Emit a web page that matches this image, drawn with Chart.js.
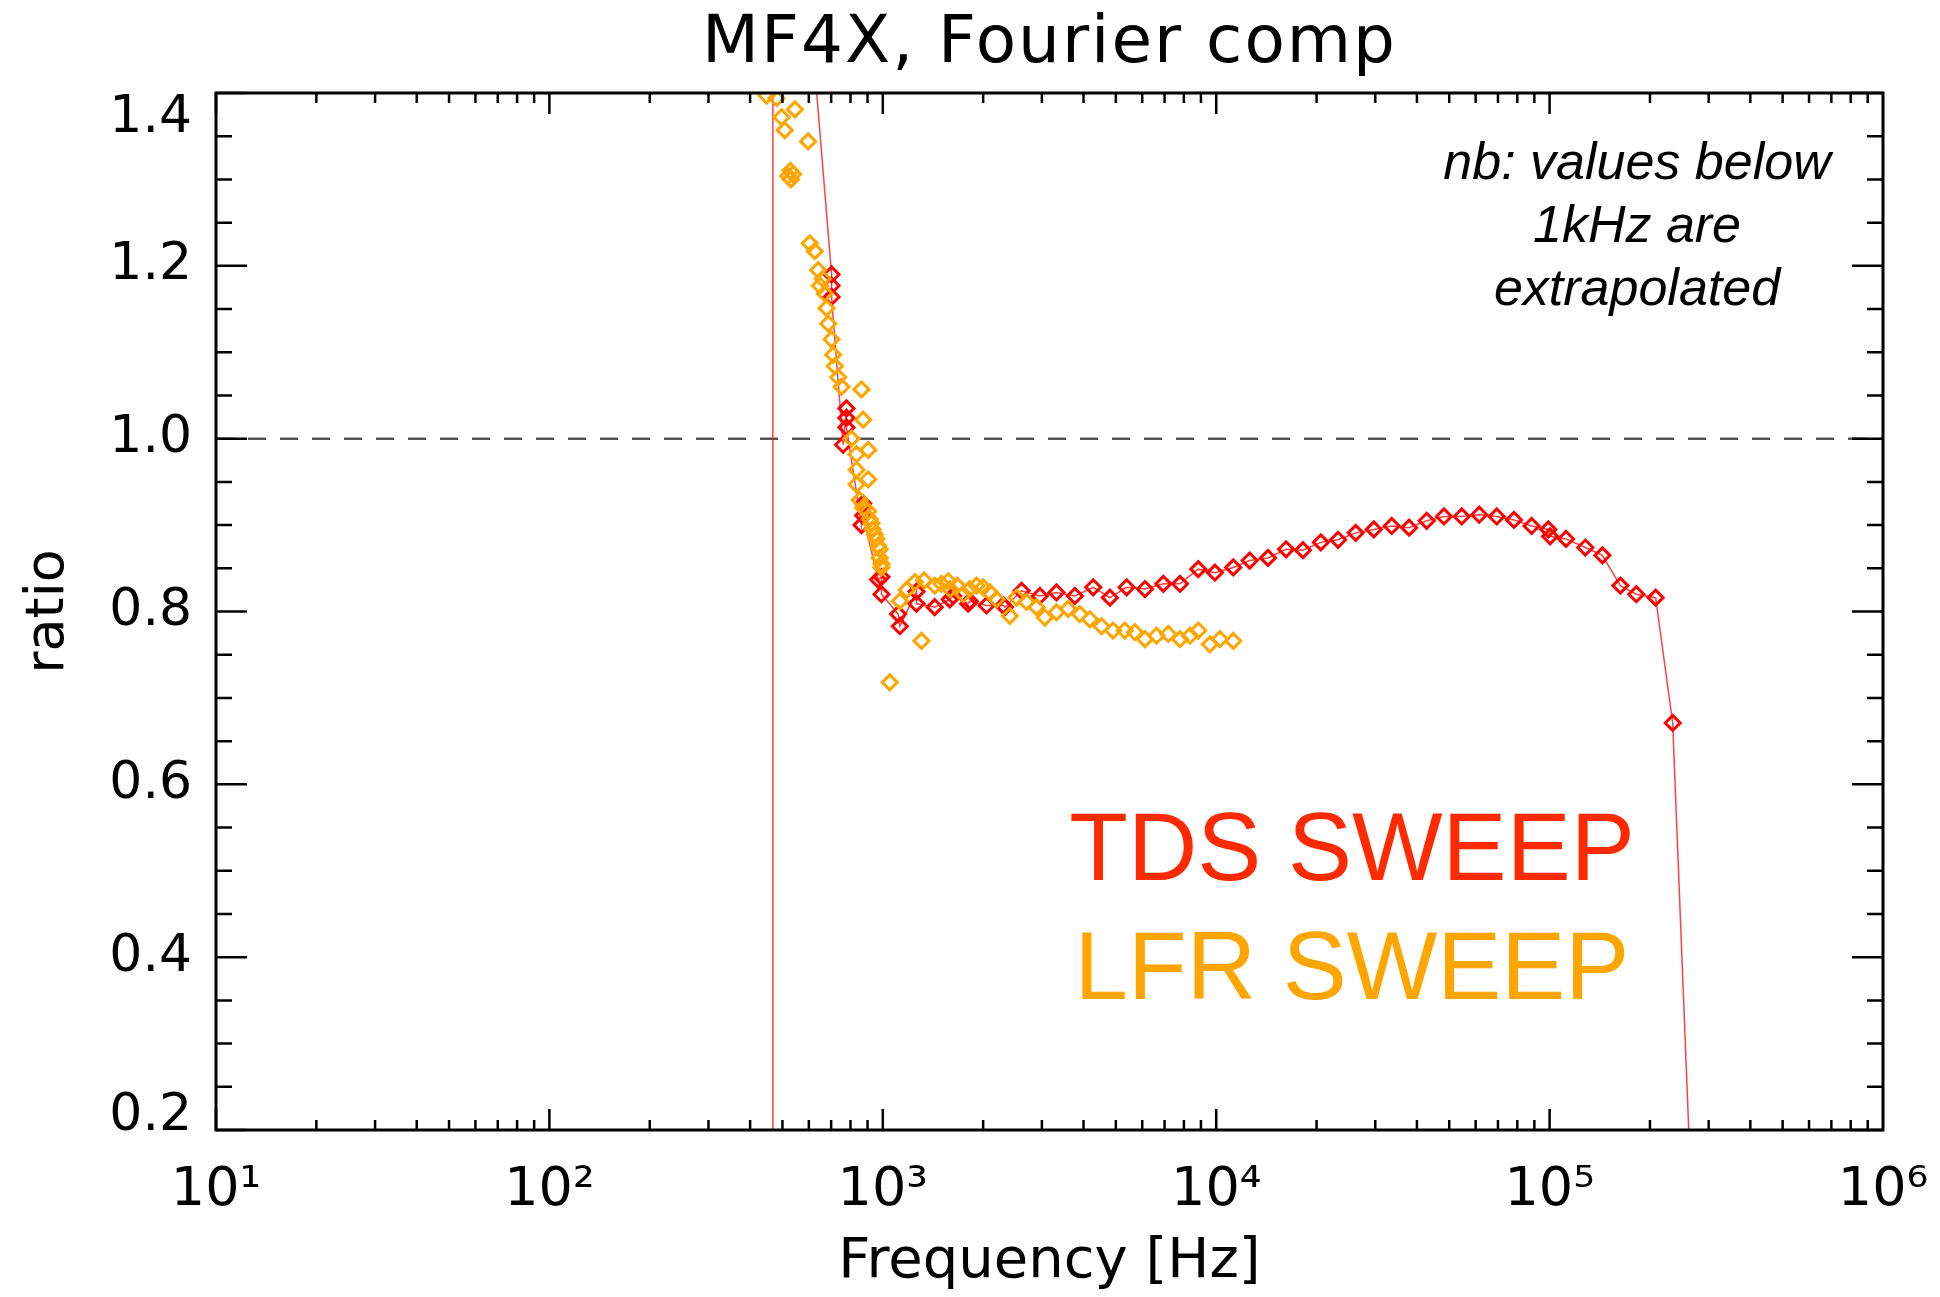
<!DOCTYPE html>
<html lang="en">

<head>
  <meta charset="UTF-8">
  <title>MF4X, Fourier comp</title>
  <script src="https://cdn.jsdelivr.net/npm/chart.js"></script>
  <style>
    body { margin: 0; background: #fff; overflow: hidden; }
  </style>
</head>

<body>
  <canvas id="ratioChart" width="1940" height="1297"></canvas>

  <script>
    // TDS sweep (red, joined by a line) - frequency [Hz] and ratio
    const tdsFreq = [466, 468, 702, 702, 702, 760, 778, 778, 778, 863, 873, 873, 968, 991, 991, 1112, 1125,
      1262, 1262, 1431, 1588, 1625, 1803, 1824, 2047, 2296, 2324, 2607, 2959, 3318, 3767, 4277, 4800, 5387,
      6115, 6941, 7788, 8834, 9913, 11250, 12600, 14300, 16200, 18200, 20600, 23200, 26200, 29700, 33600,
      37900, 42800, 48200, 54500, 61500, 69400, 78200, 88300, 99100, 100300, 112000, 128000, 144000,
      163000, 182000, 208000, 234000, 274000];
    const tdsRatio = [-2.0, 2.02, 1.190, 1.177, 1.164, 0.993, 1.035, 1.024, 1.013, 0.900, 0.925, 0.911, 0.837, 0.840, 0.820, 0.797, 0.783,
      0.823, 0.809, 0.805, 0.814, 0.818, 0.809, 0.812, 0.807, 0.807, 0.805, 0.824, 0.818, 0.822, 0.818, 0.828, 0.816, 0.828,
      0.826, 0.832, 0.832, 0.849, 0.845, 0.851, 0.859, 0.862, 0.872, 0.871, 0.880, 0.883, 0.891, 0.895, 0.899,
      0.897, 0.905, 0.910, 0.910, 0.912, 0.910, 0.906, 0.899, 0.895, 0.887, 0.884, 0.874, 0.865,
      0.830, 0.820, 0.816, 0.671, 0.0];

    // LFR sweep (orange, markers only)
    const lfrFreq = [448, 480, 497, 508, 545, 597, 520, 528, 530, 538, 604, 625, 640, 648, 660, 670, 678, 686,
      702, 710, 718, 735, 752, 863, 873, 805, 834, 904, 834, 904, 834, 853, 873, 904, 914, 925, 932, 946,
      957, 968, 979, 979, 991, 991, 1049, 1125, 1180, 1248, 1306, 1330, 1431, 1500, 1571, 1590, 1670,
      1742, 1820, 1910, 2000, 2094, 2193, 2404, 2518, 2698, 2891, 3062, 3318, 3597, 3898, 4178, 4527,
      4906, 5317, 5702, 6115, 6622, 7180, 7788, 8342, 8834, 9572, 10260, 11250];
    const lfrRatio = [1.397, 1.394, 1.372, 1.357, 1.381, 1.344, 1.304, 1.310, 1.300, 1.306, 1.226, 1.217, 1.195, 1.177, 1.185, 1.168, 1.151, 1.133,
      1.115, 1.097, 1.084, 1.071, 1.060, 1.057, 1.022, 1.000, 0.982, 0.987, 0.964, 0.953, 0.947, 0.929, 0.920, 0.916, 0.907, 0.902, 0.895, 0.889,
      0.884, 0.876, 0.872, 0.862, 0.855, 0.851, 0.718, 0.812, 0.825, 0.834, 0.766, 0.836, 0.830, 0.832, 0.835, 0.826, 0.830,
      0.820, 0.826, 0.830, 0.828, 0.822, 0.814, 0.795, 0.816, 0.811, 0.805, 0.793, 0.799, 0.803, 0.797, 0.791, 0.783,
      0.778, 0.778, 0.776, 0.768, 0.772, 0.774, 0.768, 0.772, 0.778, 0.762, 0.768, 0.766];

    // dashed reference at ratio = 1
    const refFreq = [10, 1e6];
    const refRatio = [1, 1];

    const xTickValues = [10, 100, 1000, 10000, 100000, 1000000];
    const xTickLabels = ['10¹', '10²', '10³', '10⁴', '10⁵', '10⁶'];
    const yTickValues = [0.2, 0.4, 0.6, 0.8, 1.0, 1.2, 1.4];

    const toPoints = (xs, ys) => xs.map((x, i) => ({ x, y: ys[i] }));

    // box round the plot with inward major / minor ticks
    const framePlugin = {
      id: 'frame',
      afterDatasetsDraw(chart) {
        const { ctx, chartArea: a, scales: { x, y } } = chart;
        ctx.save();
        ctx.strokeStyle = '#000';
        ctx.lineWidth = 2.5;
        ctx.beginPath();
        for (let e = 1; e <= 5; e++) {
          for (let m = 1; m <= 9; m++) {
            const px = x.getPixelForValue(m * Math.pow(10, e));
            const len = m === 1 ? 21 : 10;
            ctx.moveTo(px, a.bottom); ctx.lineTo(px, a.bottom - len);
            ctx.moveTo(px, a.top); ctx.lineTo(px, a.top + len);
          }
        }
        for (let k = 0; k <= 24; k++) {
          const v = 0.2 + k * 0.05;
          const py = y.getPixelForValue(v);
          const len = k % 4 === 0 ? 31 : 16;
          ctx.moveTo(a.left, py); ctx.lineTo(a.left + len, py);
          ctx.moveTo(a.right, py); ctx.lineTo(a.right - len, py);
        }
        ctx.stroke();
        ctx.lineWidth = 3;
        ctx.strokeRect(a.left, a.top, a.right - a.left, a.bottom - a.top);
        ctx.restore();
      }
    };

    // title, note and sweep names
    const textPlugin = {
      id: 'texts',
      afterDraw(chart) {
        const { ctx, chartArea: a } = chart;
        ctx.save();
        ctx.textAlign = 'center';
        ctx.textBaseline = 'alphabetic';
        ctx.fillStyle = '#000';
        ctx.font = '66px "DejaVu Sans"';
        ctx.letterSpacing = '2px';
        ctx.fillText('MF4X, Fourier comp', (a.left + a.right) / 2, 62);
        ctx.letterSpacing = '0px';

        ctx.font = 'italic 52px "Liberation Sans"';
        const nx = a.right - 246;
        ctx.fillText('nb: values below', nx, a.top + 86);
        ctx.fillText('1kHz are', nx, a.top + 149);
        ctx.fillText('extrapolated', nx, a.top + 212);

        ctx.font = '96px "Liberation Sans"';
        ctx.fillStyle = '#ff2a00';
        ctx.fillText('TDS SWEEP', a.right - 531, a.top + 787);
        ctx.fillStyle = '#ffa500';
        ctx.fillText('LFR SWEEP', a.right - 531, a.top + 906);
        ctx.restore();
      }
    };

    // end labels sit inside the axis range, like the original plot
    const yLabelFont = c => {
      const v = c.tick ? c.tick.value : null;
      let lh = 1.2;
      if (v === 1.4) lh = '50px';
      if (v === 0.2) lh = '28px';
      return { family: 'DejaVu Sans', size: 52, lineHeight: lh };
    };

    new Chart(document.getElementById('ratioChart'), {
      type: 'scatter',
      data: {
        datasets: [
          {
            label: 'LFR SWEEP',
            data: toPoints(lfrFreq, lfrRatio),
            showLine: false,
            pointStyle: 'rectRot',
            pointRadius: 7.5,
            pointBorderWidth: 3,
            pointBorderColor: '#ffa500',
            pointBackgroundColor: 'rgba(0,0,0,0)',
            clip: 0,
            order: 1
          },
          {
            label: 'TDS SWEEP',
            data: toPoints(tdsFreq, tdsRatio),
            showLine: true,
            borderColor: 'rgba(255,30,30,0.85)',
            borderWidth: 1.5,
            pointStyle: 'rectRot',
            pointRadius: 7.5,
            pointBorderWidth: 3,
            pointBorderColor: '#ff0000',
            pointBackgroundColor: 'rgba(0,0,0,0)',
            clip: 0,
            order: 2
          },
          {
            label: 'ratio = 1',
            data: toPoints(refFreq, refRatio),
            showLine: true,
            borderColor: '#555',
            borderWidth: 2.5,
            borderDash: [18, 14],
            pointRadius: 0,
            clip: 0,
            order: 3
          }
        ]
      },
      options: {
        responsive: false,
        devicePixelRatio: 1,
        animation: false,
        events: [],
        layout: { padding: { top: 93, right: 57, left: 0, bottom: 0 } },
        plugins: {
          legend: { display: false },
          tooltip: { enabled: false }
        },
        scales: {
          x: {
            type: 'logarithmic',
            min: 10,
            max: 1e6,
            afterBuildTicks: s => { s.ticks = xTickValues.map(v => ({ value: v })); },
            afterFit: s => {
              s.height = 167;
              s.paddingLeft = 0;
              s.paddingRight = 0;
            },
            grid: { display: false, drawTicks: false },
            border: { display: false },
            ticks: {
              autoSkip: false,
              maxRotation: 0,
              padding: 29,
              color: '#000',
              font: { family: 'DejaVu Sans', size: 54 },
              callback: (v, i) => xTickLabels[i]
            },
            title: {
              display: true,
              text: 'Frequency [Hz]',
              color: '#000',
              font: { family: 'DejaVu Sans', size: 56 },
              padding: { top: 0, bottom: 1 }
            }
          },
          y: {
            min: 0.2,
            max: 1.4,
            afterBuildTicks: s => { s.ticks = yTickValues.map(v => ({ value: v })); },
            afterFit: s => {
              s.width = 216;
              s.paddingTop = 0;
              s.paddingBottom = 0;
            },
            grid: { display: false, drawTicks: false },
            border: { display: false },
            ticks: {
              padding: 24,
              color: '#000',
              font: yLabelFont,
              callback: v => {
                const t = v.toFixed(1);
                if (v === 1.4) return ['', t];
                if (v === 0.2) return [t, ''];
                return t;
              }
            },
            title: {
              display: true,
              text: 'ratio',
              color: '#000',
              font: { family: 'DejaVu Sans', size: 54 },
              padding: { top: 17, bottom: 0 }
            }
          }
        }
      },
      plugins: [framePlugin, textPlugin]
    });
  </script>
</body>

</html>
